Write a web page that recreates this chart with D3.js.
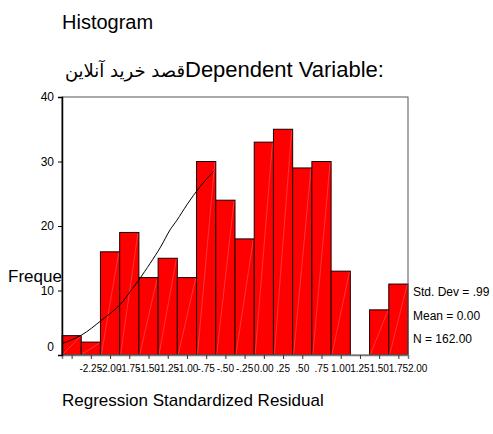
<!DOCTYPE html>
<html>
<head>
<meta charset="utf-8">
<script src="https://cdn.jsdelivr.net/npm/d3@7"></script>
<style>
  body { margin: 0; background: #fff; }
  svg { display: block; font-family: "Liberation Sans", Arial, "DejaVu Sans", sans-serif; }
</style>
</head>
<body>
<svg id="chart"></svg>
<script>
// Histogram bins (centres, in standardized residual units) and their counts
var binCenters = [-2.50, -2.25, -2.00, -1.75, -1.50, -1.25, -1.00, -0.75, -0.50, -0.25, 0.00, 0.25, 0.50, 0.75, 1.00, 1.25, 1.50, 1.75];
var counts = [3, 2, 16, 19, 12, 15, 12, 30, 24, 18, 33, 35, 29, 30, 13, 0, 7, 11];

// x tick labels (they sit one bin to the right of the first tick)
var labelValues = [-2.25, -2.00, -1.75, -1.50, -1.25, -1.00, -0.75, -0.50, -0.25, 0.00, 0.25, 0.50, 0.75, 1.00, 1.25, 1.50, 1.75, 2.00];
var labelTexts = ["-2.25", "-2.00", "-1.75", "-1.50", "-1.25", "-1.00", "-.75", "-.50", "-.25", "0.00", ".25", ".50", ".75", "1.00", "1.25", "1.50", "1.75", "2.00"];
var yTicks = [0, 10, 20, 30, 40];

// normal curve as drawn (only the left part is visible)
var curveX = [-2.62, -2.37, -2.11, -1.87, -1.74, -1.61, -1.35, -1.22, -1.13, -1.00, -0.83, -0.66];
var curveY = [1.8, 3.1, 5.4, 7.8, 9.8, 11.9, 16.6, 19.4, 20.9, 23.3, 26.1, 28.4];

var statLines = ["Std. Dev = .99", "Mean = 0.00", "N = 162.00"];

var W = 493, H = 434;
var margin = { top: 97, right: 85, bottom: 79, left: 62 };
var width = W - margin.left - margin.right,
    height = H - margin.top - margin.bottom;
var binWidth = 0.25;

var svg = d3.select("#chart").attr("width", W).attr("height", H);

// titles
svg.append("text").attr("x", 62).attr("y", 29)
    .style("font-size", "20px").text("Histogram");
svg.append("text").attr("x", 185).attr("y", 77)
    .attr("text-anchor", "end")
    .style("font-family", "'DejaVu Sans', sans-serif")
    .style("font-size", "18px").text("قصد خرید آنلاین");
svg.append("text").attr("x", 185).attr("y", 77)
    .style("font-size", "22px").text("Dependent Variable:");

// y axis title, hidden behind the plot area
svg.append("text").attr("x", 8).attr("y", 282)
    .style("font-size", "17px").text("Frequency");

var g = svg.append("g")
    .attr("transform", "translate(" + margin.left + "," + margin.top + ")");

var x = d3.scaleLinear()
    .domain([binCenters[0] - binWidth / 2, binCenters[binCenters.length - 1] + binWidth / 2])
    .range([0, width]);
var y = d3.scaleLinear().domain([0, 40]).range([height, 0]);

g.append("rect")
    .attr("width", width).attr("height", height)
    .attr("fill", "#fff");

// bars
var bars = g.selectAll(".bar")
    .data(binCenters.map(function(c, i) { return { c: c, n: counts[i] }; }))
    .enter().append("g").attr("class", "bar");

bars.filter(function(d) { return d.n > 0; }).append("rect")
    .attr("x", function(d) { return x(d.c - binWidth / 2); })
    .attr("y", function(d) { return y(d.n); })
    .attr("width", function(d) { return x(d.c + binWidth / 2) - x(d.c - binWidth / 2); })
    .attr("height", function(d) { return height - y(d.n); })
    .attr("fill", "#ff0000")
    .attr("stroke", "#1a0000")
    .attr("stroke-width", 1);

// faint diagonal streak inside each bar
bars.filter(function(d) { return d.n > 0; }).append("line")
    .attr("x1", function(d) { return x(d.c - binWidth / 2) + 1; })
    .attr("y1", height - 1)
    .attr("x2", function(d) { return x(d.c + binWidth / 2) - 1; })
    .attr("y2", function(d) { return y(d.n) + 1; })
    .attr("stroke", "#ffb0b0")
    .attr("stroke-opacity", 0.6)
    .attr("stroke-width", 0.5);

// frame
g.append("rect")
    .attr("width", width).attr("height", height)
    .attr("fill", "none").attr("stroke", "#555").attr("stroke-width", 1);

// normal curve
var line = d3.line()
    .x(function(d) { return x(d[0]); })
    .y(function(d) { return y(d[1]); })
    .curve(d3.curveCatmullRom);
g.append("path")
    .datum(curveX.map(function(v, i) { return [v, curveY[i]]; }))
    .attr("d", line)
    .attr("fill", "none").attr("stroke", "#000").attr("stroke-width", 1);

// x axis: ticks at bin centres
var xAxis = g.append("g")
    .attr("transform", "translate(0," + height + ")")
    .call(d3.axisBottom(x).tickValues(binCenters).tickSize(4).tickFormat(""));
xAxis.select(".domain").attr("stroke", "#777").attr("stroke-width", 1.5);
xAxis.selectAll(".tick line").attr("stroke", "#333");

g.selectAll(".xlab")
    .data(labelValues)
    .enter().append("text")
    .attr("class", "xlab")
    .attr("x", function(d) { return x(d); })
    .attr("y", height + 17)
    .attr("text-anchor", "middle")
    .style("font-size", "10px")
    .text(function(d, i) { return labelTexts[i]; });

// y axis
var yAxis = g.append("g")
    .call(d3.axisLeft(y).tickValues(yTicks).tickSize(4).tickPadding(4));
yAxis.select(".domain").attr("stroke", "#000").attr("stroke-width", 1.5);
yAxis.selectAll("text")
    .style("font-family", "'Liberation Sans', Arial, sans-serif")
    .style("font-size", "12px")
    .attr("fill", "#000")
    .attr("dy", function(d) { return d === 0 ? "-0.35em" : "0.32em"; });

// summary statistics
svg.selectAll(".stat")
    .data(statLines)
    .enter().append("text")
    .attr("class", "stat")
    .attr("x", 413)
    .attr("y", function(d, i) { return 296 + i * 23.5; })
    .style("font-size", "12px")
    .text(function(d) { return d; });

// x axis title
svg.append("text").attr("x", 62).attr("y", 406)
    .style("font-size", "17px").text("Regression Standardized Residual");
</script>
</body>
</html>
